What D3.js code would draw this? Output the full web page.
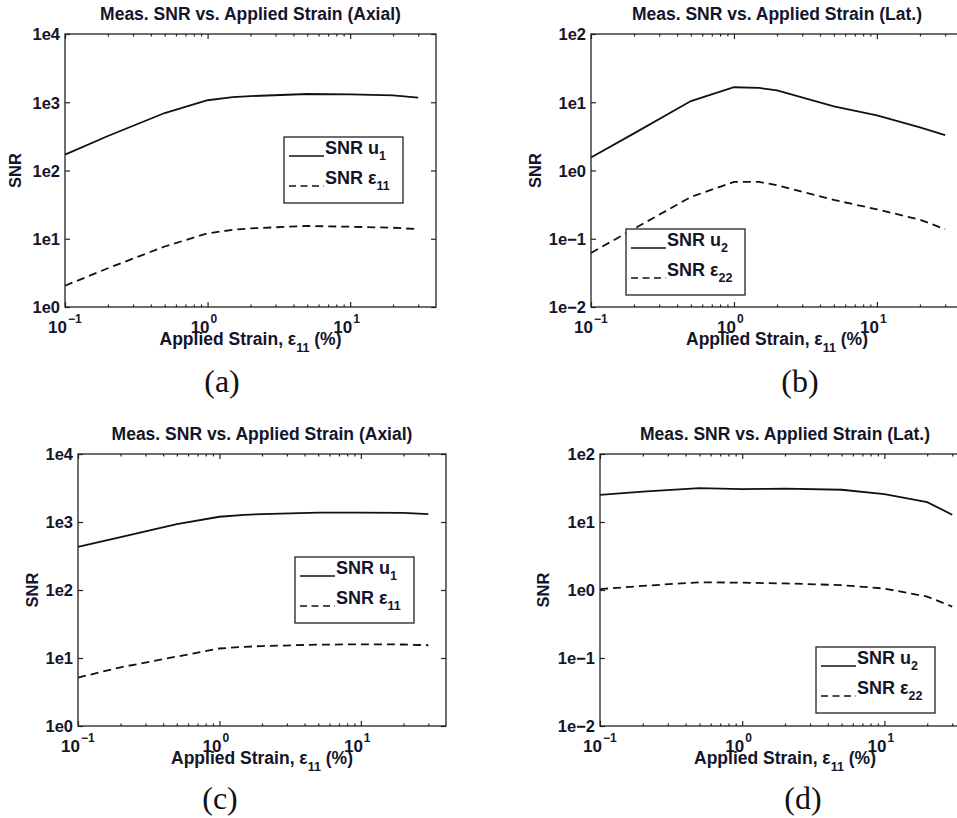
<!DOCTYPE html>
<html>
<head>
<meta charset="utf-8">
<script src="https://cdn.jsdelivr.net/npm/d3@7/dist/d3.min.js"></script>
<style>
  html, body { margin: 0; padding: 0; background: #ffffff; }
  svg { display: block; }
  .sans { font-family: "Liberation Sans", Arial, Helvetica, sans-serif; font-weight: bold; fill: #14142a; }
  .serif { font-family: "Liberation Serif", "Times New Roman", serif; fill: #111; }
</style>
</head>
<body>
<svg id="chart" width="957" height="818"></svg>
<script>
// ---------------- DATA ----------------
const strain = [0.1, 0.2, 0.5, 1, 1.5, 2, 5, 10, 20, 30];

const snrU1_a  = [171, 320, 695, 1070, 1190, 1230, 1320, 1300, 1260, 1165];
const snrE11_a = [2.05, 3.7, 7.7, 12, 13.5, 14.2, 15.4, 15.0, 14.5, 13.8];

const snrU2_b  = [1.55, 3.5, 10.4, 16.6, 16.2, 14.9, 8.7, 6.4, 4.3, 3.3];
const snrE22_b = [0.062, 0.14, 0.41, 0.68, 0.68, 0.61, 0.37, 0.27, 0.19, 0.138];

const snrU1_c  = [432, 600, 930, 1195, 1270, 1308, 1370, 1370, 1365, 1310];
const snrE11_c = [5.15, 7.3, 10.5, 13.8, 14.6, 15.0, 15.7, 15.9, 15.8, 15.4];

const snrU2_d  = [25, 28, 31.5, 30.5, 30.7, 31, 29.8, 25.7, 19.6, 12.8];
const snrE22_d = [1.03, 1.15, 1.30, 1.28, 1.26, 1.25, 1.18, 1.05, 0.80, 0.57];

const xTickValues = [0.1, 1, 10];
const xTickExponents = ["\u22121", "0", "1"];
const xDomain = [0.1, 40];

const yTicksAxial = [1, 10, 100, 1000, 10000];
const yTickLabelsAxial = ["1e0", "1e1", "1e2", "1e3", "1e4"];
const yTicksLat = [0.01, 0.1, 1, 10, 100];
const yTickLabelsLat = ["1e\u22122", "1e\u22121", "1e0", "1e1", "1e2"];

const titles = ["Meas. SNR vs. Applied Strain (Axial)", "Meas. SNR vs. Applied Strain (Lat.)",
                "Meas. SNR vs. Applied Strain (Axial)", "Meas. SNR vs. Applied Strain (Lat.)"];
const captions = ["(a)", "(b)", "(c)", "(d)"];
const legendMain = [["SNR u", "SNR \u03b5"], ["SNR u", "SNR \u03b5"], ["SNR u", "SNR \u03b5"], ["SNR u", "SNR \u03b5"]];
const legendSubs = [["1", "11"], ["2", "22"], ["1", "11"], ["2", "22"]];

// ---------------- LAYOUT ----------------
const panels = [
  { left: 65,  top: 34,  w: 371, h: 273, solid: snrU1_a, dashed: snrE11_a, yTicks: yTicksAxial, yLabels: yTickLabelsAxial, ylabOff: 50, leg: [219, 103], cap: [222, 392] },
  { left: 591, top: 34,  w: 372, h: 273, solid: snrU2_b, dashed: snrE22_b, yTicks: yTicksLat,   yLabels: yTickLabelsLat,   ylabOff: 56, leg: [35, 195],  cap: [800, 392] },
  { left: 78,  top: 454, w: 368, h: 272, solid: snrU1_c, dashed: snrE11_c, yTicks: yTicksAxial, yLabels: yTickLabelsAxial, ylabOff: 46, leg: [217, 103], cap: [220, 809] },
  { left: 600, top: 454, w: 370, h: 272, solid: snrU2_d, dashed: snrE22_d, yTicks: yTicksLat,   yLabels: yTickLabelsLat,   ylabOff: 57, leg: [216, 193], cap: [803, 809] }
];

const svg = d3.select("#chart");

function minorTicks(domain) {
  const out = [];
  for (let e = -1; e <= 1; e++) {
    for (let m = 2; m <= 9; m++) {
      const v = m * Math.pow(10, e);
      if (v > domain[0] && v < domain[1]) out.push(v);
    }
  }
  return out;
}

panels.forEach((p, i) => {
  const g = svg.append("g");
  const x = d3.scaleLog().domain(xDomain).range([p.left, p.left + p.w]);
  const yDom = [p.yTicks[0], p.yTicks[p.yTicks.length - 1]];
  const y = d3.scaleLog().domain(yDom).range([p.top + p.h, p.top]);

  // lines
  const line = d3.line().x((d, k) => x(strain[k])).y(d => y(d));
  g.append("path").datum(p.solid)
    .attr("d", line).attr("fill", "none").attr("stroke", "#111").attr("stroke-width", 1.8);
  g.append("path").datum(p.dashed)
    .attr("d", line).attr("fill", "none").attr("stroke", "#111").attr("stroke-width", 1.8)
    .attr("stroke-dasharray", "8,5");

  // axes (inward ticks on all four sides)
  const bottom = p.top + p.h, right = p.left + p.w;
  const styleAxis = sel => { sel.select(".domain").remove(); sel.selectAll("line").attr("stroke", "#222").attr("stroke-width", 1.2); };
  g.append("g").attr("transform", `translate(0,${bottom})`)
    .call(d3.axisBottom(x).tickValues(xTickValues).tickSize(-5).tickFormat("")).call(styleAxis);
  g.append("g").attr("transform", `translate(0,${bottom})`)
    .call(d3.axisBottom(x).tickValues(minorTicks(xDomain)).tickSize(-2.5).tickFormat("")).call(styleAxis);
  g.append("g").attr("transform", `translate(0,${p.top})`)
    .call(d3.axisTop(x).tickValues(xTickValues).tickSize(-5).tickFormat("")).call(styleAxis);
  g.append("g").attr("transform", `translate(0,${p.top})`)
    .call(d3.axisTop(x).tickValues(minorTicks(xDomain)).tickSize(-2.5).tickFormat("")).call(styleAxis);
  const yl = g.append("g").attr("transform", `translate(${p.left},0)`)
    .call(d3.axisLeft(y).tickValues(p.yTicks).tickSize(-5).tickPadding(5).tickFormat((d, k) => p.yLabels[k]))
    .call(styleAxis);
  yl.selectAll("text").attr("class", "sans").style("font-size", "16.5px").attr("dy", "0.36em");
  g.append("g").attr("transform", `translate(${right},0)`)
    .call(d3.axisRight(y).tickValues(p.yTicks).tickSize(-5).tickFormat("")).call(styleAxis);

  // frame
  g.append("rect").attr("x", p.left).attr("y", p.top).attr("width", p.w).attr("height", p.h)
    .attr("fill", "none").attr("stroke", "#222").attr("stroke-width", 1.3);

  // x tick labels 10^n
  xTickValues.forEach((v, k) => {
    g.append("text").attr("class", "sans")
      .attr("x", x(v) + 2).attr("y", bottom + 26)
      .style("font-size", "17px").attr("text-anchor", "end").text("10");
    g.append("text").attr("class", "sans")
      .attr("x", x(v) + 3).attr("y", bottom + 16)
      .style("font-size", "12px").text(xTickExponents[k]);
  });

  // title
  g.append("text").attr("class", "sans")
    .attr("x", p.left + p.w / 2).attr("y", p.top - 14.5)
    .attr("text-anchor", "middle").style("font-size", "17.5px").text(titles[i]);

  // x label
  const xl = g.append("text").attr("class", "sans")
    .attr("x", (x(0.1) + x(40)) / 2).attr("y", bottom + 38)
    .attr("text-anchor", "middle").style("font-size", "17.5px");
  xl.append("tspan").text("Applied Strain, \u03b5");
  xl.append("tspan").attr("dy", 7).style("font-size", "12.5px").text("11");
  xl.append("tspan").attr("dy", -7).text(" (%)");

  // y label
  g.append("text").attr("class", "sans")
    .attr("transform", `translate(${p.left - p.ylabOff},${p.top + p.h / 2}) rotate(-90)`)
    .attr("text-anchor", "middle").attr("dy", "0.36em").style("font-size", "16.5px").text("SNR");

  // legend
  const lx = p.left + p.leg[0], ly = p.top + p.leg[1];
  g.append("rect").attr("x", lx).attr("y", ly).attr("width", 119).attr("height", 66)
    .attr("fill", "#fff").attr("stroke", "#222").attr("stroke-width", 1.3);
  [0, 1].forEach(k => {
    const yy = ly + 19 + k * 30;
    g.append("line").attr("x1", lx + 5).attr("x2", lx + 40).attr("y1", yy).attr("y2", yy)
      .attr("stroke", "#111").attr("stroke-width", 1.5)
      .attr("stroke-dasharray", k === 1 ? "7,4.5" : null);
    const t = g.append("text").attr("class", "sans")
      .attr("x", lx + 41).attr("y", ly + 17 + k * 30).style("font-size", "18px");
    t.append("tspan").text(legendMain[i][k]);
    t.append("tspan").attr("dy", 6).style("font-size", "12.5px").text(legendSubs[i][k]);
  });

  // caption
  svg.append("text").attr("class", "serif")
    .attr("x", p.cap[0]).attr("y", p.cap[1]).attr("text-anchor", "middle")
    .style("font-size", "32px").text(captions[i]);
});
</script>
</body>
</html>
